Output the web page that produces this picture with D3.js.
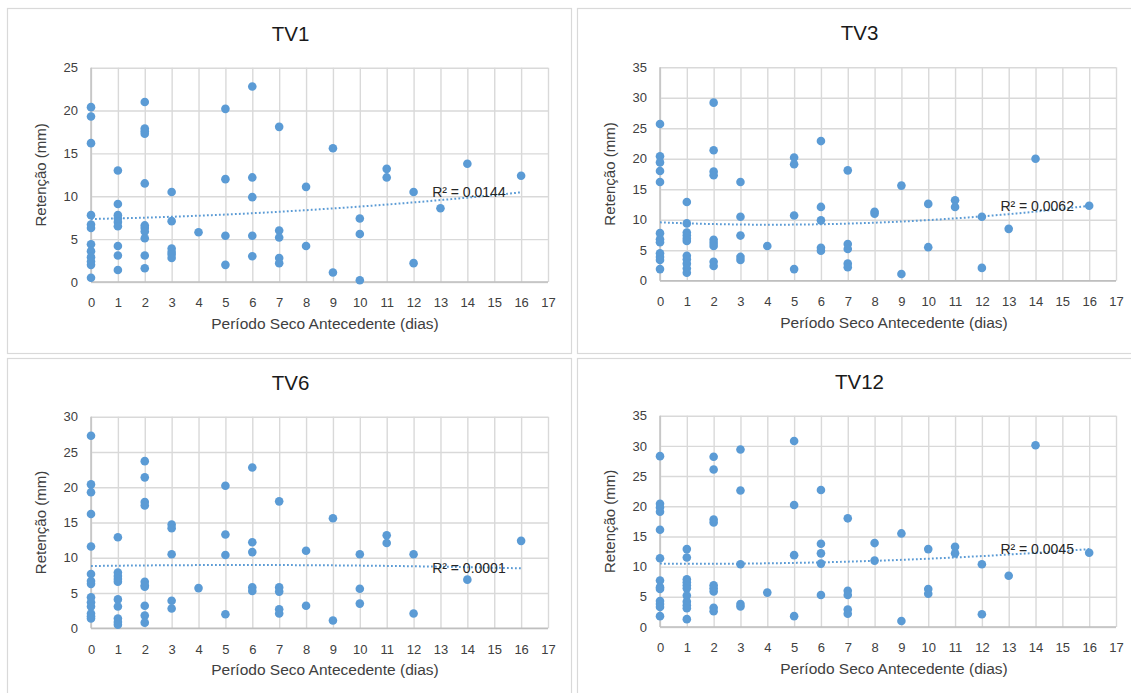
<!DOCTYPE html>
<html>
<head>
<meta charset="utf-8">
<script src="https://cdn.jsdelivr.net/npm/d3@7"></script>
<style>
  body { margin: 0; background: #fff; }
  text { font-family: "Liberation Sans", Arial, sans-serif; }
</style>
</head>
<body>
<svg id="chart" width="1131" height="693"></svg>
<script>
// Retention (mm) per event, grouped by antecedent dry period: index = days (0..16)
const tv1 = [
  [20.4, 19.3, 16.2, 7.8, 6.7, 6.3, 4.4, 3.6, 2.9, 2.4, 2.0, 0.5],
  [13.0, 9.1, 7.8, 7.4, 7.0, 6.5, 4.2, 3.1, 1.4],
  [21.0, 17.9, 17.6, 17.3, 11.5, 6.6, 6.3, 5.9, 5.1, 3.1, 1.6],
  [10.5, 7.1, 3.9, 3.5, 3.2, 2.8],
  [5.8],
  [20.2, 12.0, 5.4, 2.0],
  [22.8, 12.2, 9.9, 5.4, 3.0],
  [18.1, 6.0, 5.2, 2.8, 2.2],
  [11.1, 4.2],
  [15.6, 1.1],
  [7.4, 5.6, 0.2],
  [13.2, 12.2],
  [10.5, 2.2],
  [8.6],
  [13.8],
  [],
  [12.4]
];
const tv3 = [
  [25.7, 20.4, 19.4, 18.0, 16.2, 7.8, 6.8, 6.3, 4.5, 3.9, 3.4, 1.9],
  [12.9, 9.4, 7.9, 7.4, 6.9, 6.5, 4.1, 3.5, 2.8, 2.0, 1.3],
  [29.2, 21.4, 17.9, 17.3, 6.7, 6.2, 5.7, 3.1, 2.4],
  [16.2, 10.5, 7.4, 3.9, 3.4],
  [5.7],
  [20.2, 19.1, 10.7, 1.9],
  [22.9, 12.1, 9.9, 5.4, 4.9],
  [18.1, 6.0, 5.2, 2.8, 2.2],
  [11.3, 11.0],
  [15.6, 1.1],
  [12.6, 5.5],
  [13.2, 12.1],
  [10.5, 2.1],
  [8.5],
  [20.0],
  [],
  [12.3]
];
const tv6 = [
  [27.3, 20.4, 19.3, 16.2, 11.6, 7.7, 6.7, 6.3, 4.4, 3.7, 3.1, 2.1, 1.7, 1.4],
  [12.9, 7.9, 7.4, 7.0, 6.6, 4.1, 3.1, 1.4, 0.9, 0.5],
  [23.7, 21.4, 17.9, 17.4, 6.6, 6.1, 5.9, 3.2, 1.8, 0.8],
  [14.7, 14.2, 10.5, 3.9, 2.8],
  [5.7],
  [20.2, 13.3, 10.4, 2.0],
  [22.8, 12.2, 10.8, 5.8, 5.3],
  [18.0, 5.8, 5.2, 2.7, 2.1],
  [11.0, 3.2],
  [15.6, 1.1],
  [10.5, 5.6, 3.5],
  [13.2, 12.1],
  [10.5, 2.1],
  [],
  [6.9],
  [],
  [12.4]
];
const tv12 = [
  [28.3, 20.4, 19.8, 19.1, 16.1, 11.4, 7.7, 6.6, 6.3, 4.3, 3.8, 3.3, 1.8],
  [12.9, 11.5, 7.9, 7.4, 6.9, 6.4, 5.2, 4.2, 3.6, 3.1, 1.3],
  [28.2, 26.1, 17.8, 17.3, 6.9, 6.4, 5.9, 3.2, 2.6],
  [29.4, 22.6, 10.4, 3.8, 3.4],
  [5.7],
  [30.8, 20.2, 11.9, 1.8],
  [22.7, 13.8, 12.2, 10.5, 5.3],
  [18.0, 6.0, 5.3, 2.9, 2.2],
  [13.9, 11.0],
  [15.5, 1.0],
  [12.9, 6.3, 5.5],
  [13.3, 12.2],
  [10.4, 2.1],
  [8.5],
  [30.1],
  [],
  [12.3]
];

// Second-order polynomial trendlines: [c0, c1, c2] for c0 + c1*x + c2*x^2
const trendTV1 = [7.35, 0.0627, 0.00823];
const trendTV3 = [9.57, -0.185, 0.0222];
const trendTV6 = [8.83, 0.0501, -0.00442];
const trendTV12 = [10.5, -0.0346, 0.01154];

const titles = ["TV1", "TV3", "TV6", "TV12"];
const r2Labels = ["R² = 0.0144", "R² = 0.0062", "R² = 0.0001", "R² = 0.0045"];
const yMaxes = [25, 35, 30, 35];
const xTicks = d3.range(0, 18);
const xTitle = "Período Seco Antecedente (dias)";
const yTitle = "Retenção (mm)";
const series = [tv1, tv3, tv6, tv12];
const trends = [trendTV1, trendTV3, trendTV6, trendTV12];

// Frame and plot-area geometry of each panel
const frames = [
  { x: 7,   y: 8,   w: 564, h: 345 },
  { x: 577, y: 8,   w: 560, h: 345 },
  { x: 7,   y: 358, w: 564, h: 340 },
  { x: 577, y: 358, w: 560, h: 340 }
];
const plots = [
  { x: 91,  y: 67.7,  w: 457, h: 214.3 },
  { x: 660, y: 67.3,  w: 456, h: 213.4 },
  { x: 91,  y: 416.7, w: 457, h: 211.6 },
  { x: 660, y: 415.7, w: 456, h: 211.3 }
];

const blue = "#5b9bd5";
const svg = d3.select("#chart");

series.forEach((groups, i) => {
  const fr = frames[i], pl = plots[i];
  const pts = groups.flatMap((vals, day) => vals.map(v => [day, v]));
  const c = trends[i];
  const poly = t => c[0] + c[1] * t + c[2] * t * t;

  svg.append("rect")
    .attr("x", fr.x + 0.5).attr("y", fr.y + 0.5)
    .attr("width", fr.w).attr("height", fr.h)
    .attr("fill", "#fff").attr("stroke", "#d9d9d9").attr("stroke-width", 1.2);

  const x = d3.scaleLinear().domain([0, 17]).range([pl.x, pl.x + pl.w]);
  const y = d3.scaleLinear().domain([0, yMaxes[i]]).range([pl.y + pl.h, pl.y]);
  const yTicks = d3.range(0, yMaxes[i] + 1, 5);

  const g = svg.append("g");

  // gridlines
  g.append("g").attr("transform", `translate(0,${pl.y + pl.h})`)
    .call(d3.axisBottom(x).tickValues(xTicks).tickSize(-pl.h).tickFormat(""))
    .call(a => a.select(".domain").remove())
    .call(a => a.selectAll("line").attr("stroke", "#d9d9d9").attr("stroke-width", 1.4));
  g.append("g").attr("transform", `translate(${pl.x},0)`)
    .call(d3.axisLeft(y).tickValues(yTicks).tickSize(-pl.w).tickFormat(""))
    .call(a => a.select(".domain").remove())
    .call(a => a.selectAll("line").attr("stroke", "#d9d9d9").attr("stroke-width", 1.4));

  // axis lines
  g.append("line").attr("x1", pl.x).attr("x2", pl.x + pl.w)
    .attr("y1", pl.y + pl.h).attr("y2", pl.y + pl.h)
    .attr("stroke", "#bfbfbf").attr("stroke-width", 1.4);
  g.append("line").attr("x1", pl.x).attr("x2", pl.x)
    .attr("y1", pl.y).attr("y2", pl.y + pl.h)
    .attr("stroke", "#bfbfbf").attr("stroke-width", 1.4);

  // tick labels
  g.append("g").attr("transform", `translate(0,${pl.y + pl.h})`)
    .call(d3.axisBottom(x).tickValues(xTicks).tickSize(0).tickPadding(16))
    .call(a => a.select(".domain").remove())
    .call(a => a.selectAll("text").attr("font-size", 13).attr("fill", "#404040")
      .attr("font-family", "'Liberation Sans', Arial, sans-serif"));
  g.append("g").attr("transform", `translate(${pl.x},0)`)
    .call(d3.axisLeft(y).tickValues(yTicks).tickSize(0).tickPadding(13))
    .call(a => a.select(".domain").remove())
    .call(a => a.selectAll("text").attr("font-size", 13).attr("fill", "#404040")
      .attr("font-family", "'Liberation Sans', Arial, sans-serif"));

  // points
  g.append("g").selectAll("circle").data(pts).join("circle")
    .attr("cx", d => x(d[0])).attr("cy", d => y(d[1]))
    .attr("r", 4.3).attr("fill", blue);

  // polynomial trendline over the observed day range
  const xs = d3.range(0, 16.001, 0.1);
  g.append("path")
    .attr("d", d3.line().x(d => x(d)).y(d => y(poly(d)))(xs))
    .attr("fill", "none").attr("stroke", blue)
    .attr("stroke-width", 2).attr("stroke-dasharray", "1.8,2.2");

  g.append("text")
    .attr("x", x(12.69)).attr("y", y(poly(16)) + 5)
    .attr("font-size", 14).attr("fill", "#262626")
    .text(r2Labels[i]);

  // titles
  g.append("text")
    .attr("x", pl.x + 199.5).attr("y", pl.y - 27)
    .attr("text-anchor", "middle").attr("font-size", 20.5).attr("fill", "#1a1a1a")
    .text(titles[i]);
  g.append("text")
    .attr("x", pl.x + 234).attr("y", pl.y + pl.h + 47)
    .attr("text-anchor", "middle").attr("font-size", 15.5).attr("fill", "#404040")
    .text(xTitle);
  g.append("text")
    .attr("transform", `translate(${pl.x - 45},${pl.y + pl.h / 2}) rotate(-90)`)
    .attr("text-anchor", "middle").attr("font-size", 15).attr("fill", "#404040")
    .text(yTitle);
});
</script>
</body>
</html>
